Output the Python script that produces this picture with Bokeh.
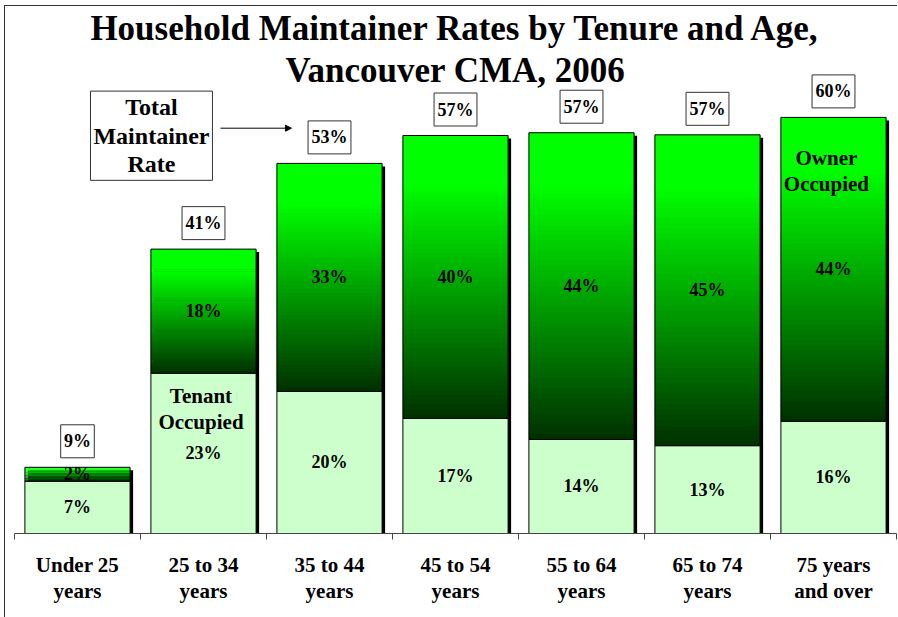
from bokeh.plotting import figure
from bokeh.models import Range1d, FixedTicker, LinearAxis, Label, Arrow, NormalHead
from bokeh.core.properties import value
from bokeh.embed import file_html
from bokeh.resources import INLINE

# ---- data ----
categories = ["Under 25\nyears", "25 to 34\nyears", "35 to 44\nyears", "45 to 54\nyears",
              "55 to 64\nyears", "65 to 74\nyears", "75 years\nand over"]
tenant = [7.5, 23.0, 20.4, 16.5, 13.5, 12.6, 16.1]
owner = [2.0, 17.8, 32.7, 40.6, 44.0, 44.6, 43.6]
tenant_labels = ["7%", "23%", "20%", "17%", "14%", "13%", "16%"]
owner_labels = ["2%", "18%", "33%", "40%", "44%", "45%", "44%"]
total_labels = ["9%", "41%", "53%", "57%", "57%", "57%", "60%"]

FONT = "Liberation Serif"
n = len(categories)
centers = [i + 0.5 for i in range(n)]
totals = [t + o for t, o in zip(tenant, owner)]
BAR_W = 0.835
PX_X = 126.0   # pixels per category
PX_Y = 6.97    # pixels per percent

p = figure(frame_width=882, frame_height=527, min_border_left=9, min_border_right=1,
           min_border_top=0, min_border_bottom=84,
           x_range=Range1d(0, n), y_range=Range1d(0, 527 / PX_Y),
           output_backend="svg", toolbar_location=None, x_axis_location=None,
           y_axis_location=None)
p.styles = {"border-top": "1px solid #333333", "border-left": "1px solid #333333",
            "margin-left": "4px", "margin-top": "5px"}
p.grid.visible = False
p.outline_line_color = None
p.background_fill_color = "white"
p.border_fill_color = "white"

# shadow (3px offset)
dx = 3 / PX_X
dy = 3 / PX_Y
p.vbar(x=[c + dx for c in centers], width=BAR_W, bottom=0, top=[t - dy for t in totals],
       fill_color="black", line_color=None)

# tenant segments
p.vbar(x=centers, width=BAR_W, bottom=0, top=tenant, fill_color="#CCFFCC",
       line_color="black", line_width=1)

# owner segments with gradient (dark bottom -> bright top)
N = 60
gx, gb, gt, gc = [], [], [], []
for c, t, o in zip(centers, tenant, owner):
    for k in range(N):
        f = (k + 0.5) / N
        f2 = min(1.0, f / 0.83)
        g = int(round(0x30 + f2 * (0xFF - 0x30)))
        gx.append(c)
        gb.append(t + o * k / N)
        gt.append(min(t + o, t + o * (k + 1.3) / N))
        gc.append("#00%02X00" % g)
p.vbar(x=gx, width=BAR_W, bottom=gb, top=gt, fill_color=gc, line_color=None)
p.vbar(x=centers, width=BAR_W, bottom=tenant, top=totals, fill_color=None,
       line_color="black", line_width=1)

# x axis: boundary ticks as minor ticks, labels at centers
ax = LinearAxis(ticker=FixedTicker(ticks=centers, minor_ticks=list(range(n + 1))))
ax.major_label_overrides = {c: lab for c, lab in zip(centers, categories)}
ax.major_tick_line_color = None
ax.major_tick_out = 0
ax.major_tick_in = 0
ax.minor_tick_out = 6
ax.minor_tick_in = 0
ax.minor_tick_line_color = "#444444"
ax.axis_line_color = "#444444"
ax.major_label_standoff = 13
ax.major_label_text_font = FONT
ax.major_label_text_font_style = "bold"
ax.major_label_text_font_size = "21px"
ax.major_label_text_color = "black"
ax.major_label_text_line_height = 1.1
p.add_layout(ax, "below")

txt = dict(text_font=value(FONT), text_font_style="bold", text_align="center",
           text_baseline="middle", text_color="black")

# segment labels
p.text(x=centers, y=[t / 2 for t in tenant], text=tenant_labels, text_font_size="18px", **txt)
p.text(x=centers, y=[t + o / 2 for t, o in zip(tenant, owner)], text=owner_labels,
       text_font_size="18px", **txt)

# total labels in boxes above bars
box_y = [t + 26 / PX_Y for t in totals]
p.rect(x=centers, y=box_y, width=[15 + 9.3 * len(s) for s in total_labels], height=33,
       width_units="screen", height_units="screen", fill_color="white",
       line_color="#333333", line_width=1)
p.text(x=centers, y=box_y, text=total_labels, text_font_size="18px", **txt)

# title
lab = dict(text_font=FONT, text_font_style="bold", text_align="center",
           text_baseline="middle", text_color="black")
p.add_layout(Label(x=3.5, y=72.45, text="Household Maintainer Rates by Tenure and Age,",
                   text_font_size="35px", **lab))
p.add_layout(Label(x=3.5, y=66.4, text="Vancouver CMA, 2006", text_font_size="35px", **lab))

# annotations
p.add_layout(Label(x=1.087, y=57.07, text="Total\nMaintainer\nRate", text_font_size="24px",
                   text_line_height=1.1, border_line_color="#333333",
                   background_fill_color="white", padding=3, **lab))
p.add_layout(Arrow(x_start=1.635, y_start=58.15, x_end=2.198, y_end=58.15,
                   line_color="black", line_width=1,
                   end=NormalHead(size=6, fill_color="black", line_color="black")))
p.add_layout(Label(x=1.48, y=17.9, text="Tenant\nOccupied", text_font_size="21px",
                   text_line_height=1.1, **lab))
p.add_layout(Label(x=6.444, y=52.0, text="Owner\nOccupied", text_font_size="21px",
                   text_line_height=1.1, **lab))

open("out.html", "w").write(file_html(p, INLINE))
